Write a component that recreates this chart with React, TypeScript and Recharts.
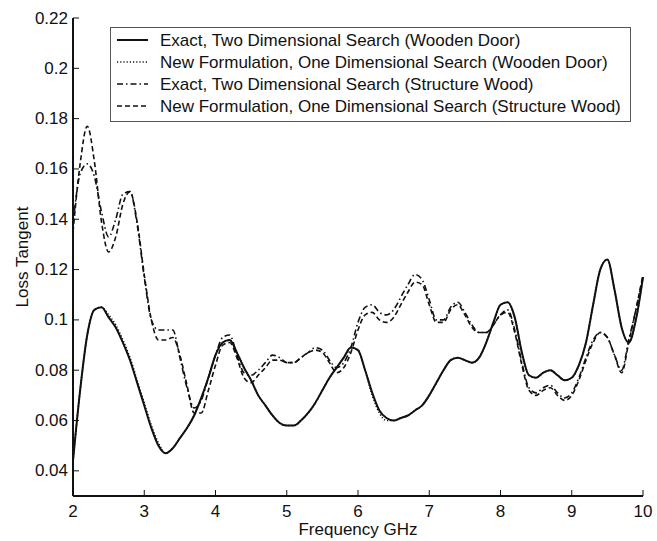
import React from 'react';
import { LineChart, Line, XAxis, YAxis, Legend } from 'recharts';

// frequency grid (GHz)
const freq = [
  2.0, 2.1, 2.2, 2.3, 2.4, 2.5, 2.6, 2.7, 2.8, 2.9,
  3.0, 3.1, 3.2, 3.3, 3.4, 3.5, 3.6, 3.7, 3.8, 3.9,
  4.0, 4.1, 4.2, 4.3, 4.4, 4.5, 4.6, 4.7, 4.8, 4.9,
  5.0, 5.1, 5.2, 5.3, 5.4, 5.5, 5.6, 5.7, 5.8, 5.9,
  6.0, 6.1, 6.2, 6.3, 6.4, 6.5, 6.6, 6.7, 6.8, 6.9,
  7.0, 7.1, 7.2, 7.3, 7.4, 7.5, 7.6, 7.7, 7.8, 7.9,
  8.0, 8.1, 8.2, 8.3, 8.4, 8.5, 8.6, 8.7, 8.8, 8.9,
  9.0, 9.1, 9.2, 9.3, 9.4, 9.5, 9.6, 9.7, 9.8, 9.9,
  10.0,
];

const exactDoor = [
  0.044, 0.072, 0.094, 0.104, 0.105, 0.101, 0.097, 0.091, 0.084, 0.075,
  0.066, 0.057, 0.050, 0.047, 0.049, 0.053, 0.057, 0.062, 0.069, 0.077,
  0.086, 0.091, 0.092, 0.087, 0.081, 0.076, 0.070, 0.066, 0.062, 0.059,
  0.058, 0.058, 0.060, 0.063, 0.067, 0.072, 0.077, 0.081, 0.085, 0.089,
  0.088, 0.080, 0.071, 0.064, 0.061, 0.060, 0.061, 0.062, 0.064, 0.066,
  0.070, 0.075, 0.080, 0.084, 0.085, 0.084, 0.083, 0.085, 0.091, 0.099,
  0.106, 0.107, 0.101, 0.087, 0.078, 0.077, 0.079, 0.080, 0.078, 0.076,
  0.077, 0.082, 0.091, 0.106, 0.120, 0.124, 0.112, 0.097, 0.091, 0.100,
  0.117,
];

const newDoor = [
  0.044, 0.072, 0.094, 0.104, 0.105, 0.102, 0.098, 0.092, 0.085, 0.076,
  0.067, 0.058, 0.051, 0.047, 0.049, 0.053, 0.057, 0.062, 0.069, 0.077,
  0.086, 0.091, 0.092, 0.087, 0.081, 0.076, 0.070, 0.066, 0.062, 0.059,
  0.058, 0.058, 0.060, 0.063, 0.067, 0.072, 0.077, 0.081, 0.085, 0.089,
  0.088, 0.080, 0.070, 0.063, 0.060, 0.060, 0.061, 0.062, 0.064, 0.066,
  0.070, 0.075, 0.080, 0.084, 0.085, 0.084, 0.083, 0.085, 0.091, 0.099,
  0.106, 0.107, 0.101, 0.087, 0.078, 0.077, 0.079, 0.080, 0.078, 0.076,
  0.077, 0.082, 0.091, 0.106, 0.120, 0.124, 0.112, 0.097, 0.091, 0.100,
  0.117,
];

const exactWood = [
  0.138, 0.158, 0.162, 0.157, 0.143, 0.133, 0.140, 0.150, 0.151, 0.138,
  0.117, 0.100, 0.096, 0.096, 0.096, 0.085, 0.073, 0.065, 0.068, 0.077,
  0.086, 0.093, 0.094, 0.086, 0.079, 0.078, 0.080, 0.083, 0.086, 0.085,
  0.083, 0.083, 0.085, 0.087, 0.089, 0.088, 0.084, 0.081, 0.083, 0.089,
  0.099, 0.105, 0.106, 0.103, 0.102, 0.104, 0.109, 0.114, 0.118, 0.116,
  0.108, 0.100, 0.100, 0.105, 0.107, 0.103, 0.098, 0.095, 0.095, 0.098,
  0.102, 0.104, 0.096, 0.083, 0.073, 0.071, 0.073, 0.074, 0.071, 0.069,
  0.071, 0.077, 0.085, 0.092, 0.095, 0.093, 0.086, 0.080, 0.092, 0.104,
  0.117,
];

const newWood = [
  0.135, 0.162, 0.177, 0.163, 0.139, 0.127, 0.133, 0.146, 0.151, 0.139,
  0.118, 0.100, 0.092, 0.092, 0.093, 0.086, 0.074, 0.063, 0.063, 0.072,
  0.082, 0.090, 0.091, 0.085, 0.077, 0.075, 0.078, 0.081, 0.084, 0.084,
  0.083, 0.083, 0.085, 0.087, 0.088, 0.087, 0.083, 0.079, 0.081, 0.087,
  0.096, 0.102, 0.103, 0.100, 0.099, 0.101, 0.106, 0.111, 0.115, 0.114,
  0.106, 0.099, 0.099, 0.104, 0.106, 0.102, 0.097, 0.095, 0.095, 0.098,
  0.102, 0.103, 0.095, 0.082, 0.072, 0.070, 0.072, 0.073, 0.070, 0.068,
  0.070, 0.076, 0.084, 0.091, 0.095, 0.093, 0.086, 0.079, 0.091, 0.104,
  0.118,
];

const xTicks = [2, 3, 4, 5, 6, 7, 8, 9, 10];
const yTicks = [0.04, 0.06, 0.08, 0.1, 0.12, 0.14, 0.16, 0.18, 0.2, 0.22];

const seriesNames = [
  'Exact, Two Dimensional Search (Wooden Door)',
  'New Formulation, One Dimensional Search (Wooden Door)',
  'Exact, Two Dimensional Search (Structure Wood)',
  'New Formulation, One Dimensional Search (Structure Wood)',
];

const data = freq.map((f, i) => ({
  f,
  exactDoor: exactDoor[i],
  newDoor: newDoor[i],
  exactWood: exactWood[i],
  newWood: newWood[i],
}));

const FONT = '"Liberation Sans", Arial, Helvetica, sans-serif';
const INK = '#111';
const FS = 17;

const styles = [
  { key: 'exactDoor', width: 2, dash: undefined },
  { key: 'newDoor', width: 1.6, dash: '1.2 2' },
  { key: 'exactWood', width: 1.6, dash: '6 3 1.5 3' },
  { key: 'newWood', width: 1.6, dash: '5 3' },
];

const fmtY = (v: number) => String(Number(v.toFixed(2)));

const BottomTick = ({ x, y, payload }: any) => (
  <g>
    <line x1={x} x2={x} y1={y} y2={y - 6} stroke={INK} strokeWidth={1} />
    <text x={x} y={y + 15} textAnchor="middle" dominantBaseline="central" fontSize={FS} fontFamily={FONT} fill={INK}>
      {payload.value}
    </text>
  </g>
);

const LeftTick = ({ x, y, payload }: any) => (
  <g>
    <line x1={x} x2={x + 6} y1={y} y2={y} stroke={INK} strokeWidth={1} />
    <text x={x - 5} y={y} textAnchor="end" dominantBaseline="central" fontSize={FS} fontFamily={FONT} fill={INK}>
      {fmtY(payload.value)}
    </text>
  </g>
);

const TopTick = ({ x, y }: any) => <line x1={x} x2={x} y1={y} y2={y + 6} stroke={INK} strokeWidth={1} />;
const RightTick = ({ x, y }: any) => <line x1={x} x2={x - 6} y1={y} y2={y} stroke={INK} strokeWidth={1} />;

const LegendBox = () => (
  <svg width={521} height={96} style={{ display: 'block' }}>
    <rect x={0.5} y={0.5} width={520} height={94} fill="#fff" stroke="#555" strokeWidth={1} />
    {styles.map((s, i) => (
      <g key={s.key}>
        <line x1={7} x2={38} y1={13 + i * 22} y2={13 + i * 22} stroke={INK} strokeWidth={s.width} strokeDasharray={s.dash} />
        <text x={50} y={13 + i * 22} dominantBaseline="central" fontSize={FS} fontFamily={FONT} fill={INK}>
          {seriesNames[i]}
        </text>
      </g>
    ))}
  </svg>
);

export default function App() {
  return (
    <div style={{ position: 'absolute', left: 0, top: 0, width: 657, height: 541, background: '#fff' }}>
      <LineChart width={657} height={541} data={data} margin={{ top: 18, right: 14, left: 13, bottom: 15 }}>
        <XAxis
          dataKey="f"
          type="number"
          domain={[2, 10]}
          ticks={xTicks}
          interval={0}
          height={30}
          tickSize={0}
          tickMargin={0}
          tick={<BottomTick />}
          axisLine={{ stroke: INK, strokeWidth: 2 }}
          tickLine={false}
          label={{ value: 'Frequency GHz', position: 'insideBottom', offset: -9, fontSize: FS, fontFamily: FONT, fill: INK }}
        />
        <XAxis
          xAxisId="top"
          orientation="top"
          dataKey="f"
          type="number"
          domain={[2, 10]}
          ticks={xTicks}
          interval={0}
          height={0}
          tickSize={0}
          tickMargin={0}
          tick={<TopTick />}
          axisLine={{ stroke: INK, strokeWidth: 1.5 }}
          tickLine={false}
        />
        <YAxis
          type="number"
          domain={[0.03, 0.22]}
          ticks={yTicks}
          interval={0}
          width={60}
          tickSize={0}
          tickMargin={0}
          tick={<LeftTick />}
          axisLine={{ stroke: INK, strokeWidth: 2 }}
          tickLine={false}
          allowDataOverflow
          label={{ value: 'Loss Tangent', angle: -90, position: 'insideLeft', offset: 0, dx: 9, fontSize: FS, fontFamily: FONT, fill: INK, style: { textAnchor: 'middle' } }}
        />
        <YAxis
          yAxisId="right"
          orientation="right"
          type="number"
          domain={[0.03, 0.22]}
          ticks={yTicks}
          interval={0}
          width={0}
          tickSize={0}
          tickMargin={0}
          tick={<RightTick />}
          axisLine={{ stroke: INK, strokeWidth: 1.5 }}
          tickLine={false}
        />
        <Legend
          layout="horizontal"
          verticalAlign="middle"
          align="center"
          content={<LegendBox />}
          wrapperStyle={{ position: 'absolute', left: 110, top: 27, width: 521, height: 96 }}
        />
        {styles.map((s, i) => (
          <Line
            key={s.key}
            dataKey={s.key}
            name={seriesNames[i]}
            type="monotone"
            stroke={INK}
            strokeWidth={s.width}
            strokeDasharray={s.dash}
            dot={false}
            isAnimationActive={false}
          />
        ))}
      </LineChart>
    </div>
  );
}
